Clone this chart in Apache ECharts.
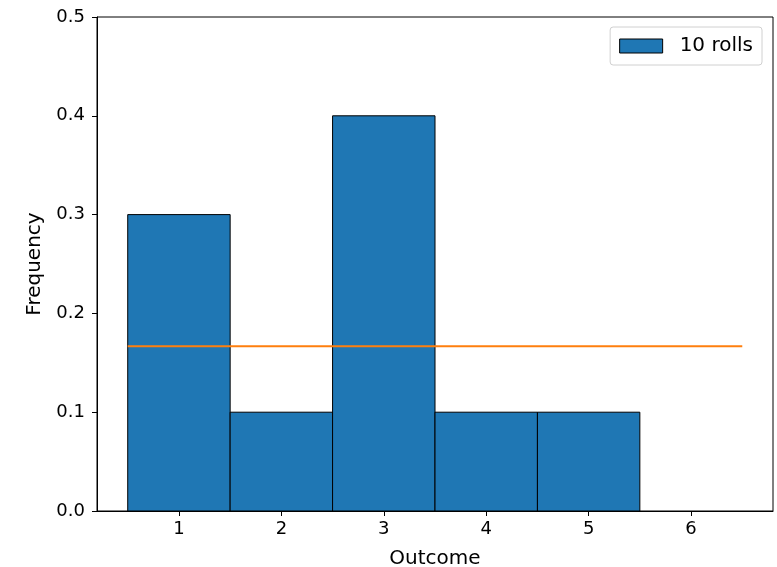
<!DOCTYPE html>
<html>
<head>
<meta charset="utf-8">
<script src="https://cdn.jsdelivr.net/npm/echarts@6/dist/echarts.min.js"></script>
<style>html,body{margin:0;padding:0;background:#fff}#c{width:777px;height:567px}</style>
</head>
<body>
<div id="c"></div>
<script>
// Data
var binEdges = [0.5, 1.5, 2.5, 3.5, 4.5, 5.5, 6.5];
var frequencies = [0.3, 0.1, 0.4, 0.1, 0.1, 0.0];
var expectedX = [0.5, 6.5];
var expectedY = [1/6, 1/6];
var xTicks = [1, 2, 3, 4, 5, 6];
var yTicks = [0, 0.1, 0.2, 0.3, 0.4, 0.5];
var seriesName = '10 rolls';

var histData = frequencies.map(function (v, i) { return [binEdges[i], binEdges[i + 1], v]; });
var lineData = expectedX.map(function (x, i) { return [x, expectedY[i]]; });

var FONT = 'DejaVu Sans';
var chart = echarts.init(document.getElementById('c'), null, { renderer: 'canvas' });
chart.setOption({
  animation: false,
  backgroundColor: '#fff',
  grid: { left: 97, right: 4, top: 17, bottom: 56, show: true, borderColor: '#000', borderWidth: 1, backgroundColor: 'transparent', containLabel: false, outerBoundsMode: 'none' },
  legend: {
    right: 15, top: 27,
    padding: [9, 9, 9, 9],
    borderColor: '#d0d0d0', borderWidth: 1, borderRadius: 3,
    itemWidth: 43, itemHeight: 14,
    textStyle: { fontFamily: FONT, fontSize: 20, color: '#000', padding: [0, 0, 0, 12] },
    data: [{ name: seriesName, icon: 'rect', itemStyle: { color: '#1f77b4', borderColor: '#000', borderWidth: 1 } }]
  },
  xAxis: {
    type: 'value', min: 0.2, max: 6.8,
    name: 'Outcome', nameLocation: 'middle', nameGap: 38,
    nameTextStyle: { fontFamily: FONT, fontSize: 20, color: '#000' },
    axisLine: { show: true, lineStyle: { color: '#000', width: 1 } },
    axisTick: { show: true, length: 5, lineStyle: { color: '#000' }, customValues: xTicks },
    axisLabel: { fontFamily: FONT, fontSize: 18, color: '#000', margin: 9, customValues: xTicks },
    splitLine: { show: false }
  },
  yAxis: {
    type: 'value', min: 0, max: 0.5,
    name: 'Frequency', nameLocation: 'middle', nameGap: 52, nameRotate: 90,
    nameTextStyle: { fontFamily: FONT, fontSize: 20, color: '#000' },
    axisLine: { show: true, lineStyle: { color: '#000', width: 1 } },
    axisTick: { show: true, length: 5, lineStyle: { color: '#000' }, customValues: yTicks },
    axisLabel: { fontFamily: FONT, fontSize: 18, color: '#000', margin: 12, customValues: yTicks,
      formatter: function (v) { return v.toFixed(1); } },
    splitLine: { show: false }
  },
  series: [
    {
      name: seriesName, type: 'custom',
      itemStyle: { color: '#1f77b4' },
      encode: { x: [0, 1], y: 2 },
      renderItem: function (params, api) {
        var p0 = api.coord([api.value(0), api.value(2)]);
        var p1 = api.coord([api.value(1), 0]);
        if (api.value(2) <= 0) return null;
        return {
          type: 'rect',
          shape: { x: p0[0], y: p0[1], width: p1[0] - p0[0], height: p1[1] - p0[1] },
          style: { fill: '#1f77b4', stroke: '#000', lineWidth: 1 }
        };
      },
      data: histData, z: 2
    },
    {
      name: 'expected', type: 'line', data: lineData, symbol: 'none',
      lineStyle: { color: '#ff7f0e', width: 2 }, z: 3
    }
  ]
});
</script>
</body>
</html>
